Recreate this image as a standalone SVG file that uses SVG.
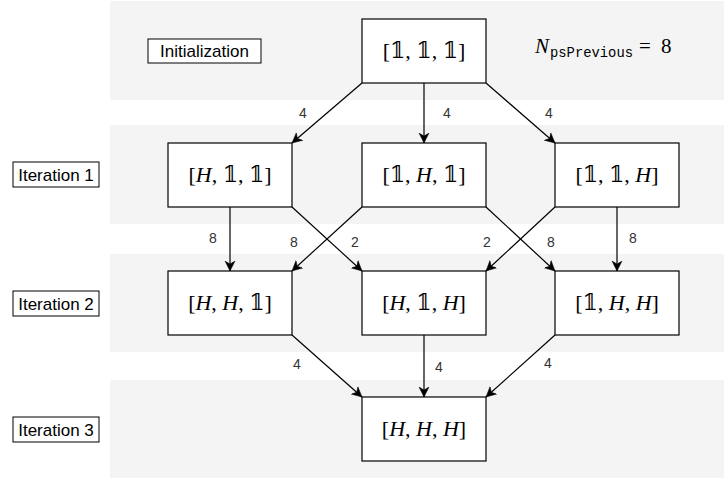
<svg xmlns="http://www.w3.org/2000/svg" width="724" height="478" viewBox="0 0 724 478">
<style>
.band{fill:#f4f4f4;stroke:none}
.node{fill:#ffffff;stroke:#000000;stroke-width:1.2}
.lbl{fill:#ffffff;stroke:#000000;stroke-width:1}
.lt{font-family:"Liberation Sans",Arial,sans-serif;font-size:17px;fill:#000;text-anchor:middle}
.math{font-family:"Liberation Serif","DejaVu Serif","DejaVu Sans",serif;font-size:22px;fill:#000;text-anchor:middle}
.ser{font-family:"Liberation Serif","DejaVu Serif",serif;font-size:21px;fill:#000}
.mono{font-family:"Liberation Mono","DejaVu Sans Mono",monospace;font-size:14px;fill:#000}
.it{font-style:italic}
.e{fill:none;stroke:#000;stroke-width:1.2}
.el{font-family:"Liberation Sans",Arial,sans-serif;font-size:14px;fill:#333;text-anchor:middle}
</style>
<defs>
<marker id="arr" markerUnits="userSpaceOnUse" markerWidth="12" markerHeight="12" viewBox="0 -6 12 12" refX="10" refY="0" orient="auto">
<path d="M0,-5 L10,0 L0,5 L3,0 Z" fill="#000" stroke="#000" stroke-width="0.5"/>
</marker>
</defs>
<g id="bands">
<rect class="band" x="110" y="1" width="614" height="99"/>
<rect class="band" x="110" y="125" width="614" height="99"/>
<rect class="band" x="110" y="254" width="614" height="98"/>
<rect class="band" x="110" y="380" width="614" height="98"/>
</g>
<g id="labels">
<g id="lbl-init"><rect class="lbl" x="148" y="39" width="113" height="24"/><text class="lt" x="204.5" y="57">Initialization</text></g>
<g id="lbl-it1"><rect class="lbl" x="13" y="162" width="86" height="25"/><text class="lt" x="56" y="180.5">Iteration 1</text></g>
<g id="lbl-it2"><rect class="lbl" x="13" y="291" width="86" height="25"/><text class="lt" x="56" y="309.5">Iteration 2</text></g>
<g id="lbl-it3"><rect class="lbl" x="13" y="417" width="86" height="25"/><text class="lt" x="56" y="435.5">Iteration 3</text></g>
</g>
<g id="npsprev">
<text class="ser it" x="535" y="53">N</text>
<text class="mono" x="550" y="57" textLength="83" lengthAdjust="spacingAndGlyphs">psPrevious</text>
<text class="ser" x="639" y="53">=</text>
<text class="ser" x="661" y="53">8</text>
</g>
<g id="connectors">
<line class="e" x1="362" y1="83" x2="292" y2="143" marker-end="url(#arr)"/>
<line class="e" x1="424" y1="83" x2="424" y2="143" marker-end="url(#arr)"/>
<line class="e" x1="486" y1="83" x2="555" y2="143" marker-end="url(#arr)"/>
<line class="e" x1="230" y1="207" x2="230" y2="271" marker-end="url(#arr)"/>
<line class="e" x1="292" y1="207" x2="362" y2="271" marker-end="url(#arr)"/>
<line class="e" x1="362" y1="207" x2="292" y2="271" marker-end="url(#arr)"/>
<line class="e" x1="486" y1="207" x2="555" y2="271" marker-end="url(#arr)"/>
<line class="e" x1="555" y1="207" x2="486" y2="271" marker-end="url(#arr)"/>
<line class="e" x1="617" y1="207" x2="617" y2="271" marker-end="url(#arr)"/>
<line class="e" x1="292" y1="335" x2="362" y2="397" marker-end="url(#arr)"/>
<line class="e" x1="424" y1="335" x2="424" y2="397" marker-end="url(#arr)"/>
<line class="e" x1="555" y1="335" x2="486" y2="397" marker-end="url(#arr)"/>
<text class="el" x="303" y="118">4</text>
<text class="el" x="447" y="118">4</text>
<text class="el" x="549" y="118">4</text>
<text class="el" x="213" y="243">8</text>
<text class="el" x="294" y="247">8</text>
<text class="el" x="355" y="247">2</text>
<text class="el" x="487" y="247">2</text>
<text class="el" x="551" y="247">8</text>
<text class="el" x="633" y="243">8</text>
<text class="el" x="297" y="369">4</text>
<text class="el" x="439" y="372">4</text>
<text class="el" x="548" y="368">4</text>
</g>
<g id="n111"><rect class="node" x="362" y="19" width="124" height="64"/><text class="math" x="424" y="58">[𝟙, 𝟙, 𝟙]</text></g>
<g id="nH11"><rect class="node" x="168" y="143" width="124" height="64"/><text class="math" x="230" y="182">[<tspan class="it">H</tspan>, 𝟙, 𝟙]</text></g>
<g id="n1H1"><rect class="node" x="362" y="143" width="124" height="64"/><text class="math" x="424" y="182">[𝟙, <tspan class="it">H</tspan>, 𝟙]</text></g>
<g id="n11H"><rect class="node" x="555" y="143" width="124" height="64"/><text class="math" x="617" y="182">[𝟙, 𝟙, <tspan class="it">H</tspan>]</text></g>
<g id="nHH1"><rect class="node" x="168" y="271" width="124" height="64"/><text class="math" x="230" y="310">[<tspan class="it">H</tspan>, <tspan class="it">H</tspan>, 𝟙]</text></g>
<g id="nH1H"><rect class="node" x="362" y="271" width="124" height="64"/><text class="math" x="424" y="310">[<tspan class="it">H</tspan>, 𝟙, <tspan class="it">H</tspan>]</text></g>
<g id="n1HH"><rect class="node" x="555" y="271" width="124" height="64"/><text class="math" x="617" y="310">[𝟙, <tspan class="it">H</tspan>, <tspan class="it">H</tspan>]</text></g>
<g id="nHHH"><rect class="node" x="362" y="397" width="124" height="64"/><text class="math" x="424" y="436">[<tspan class="it">H</tspan>, <tspan class="it">H</tspan>, <tspan class="it">H</tspan>]</text></g>
</svg>
